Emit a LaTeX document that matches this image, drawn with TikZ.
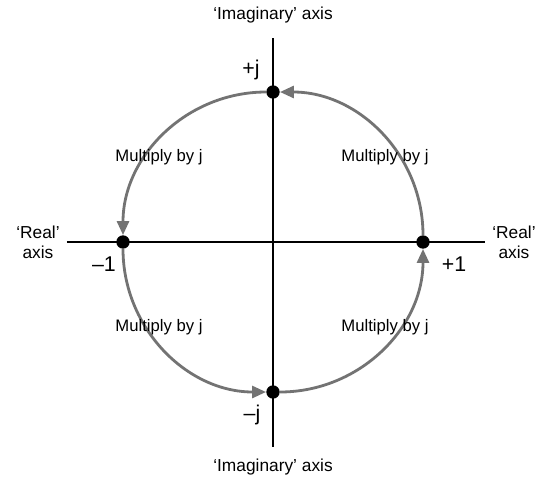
\documentclass[tikz,border=0pt]{standalone}
\usepackage{fontspec}
\setmainfont{Liberation Sans}
\usetikzlibrary{positioning, arrows.meta}
\definecolor{ArcGray}{RGB}{115,115,115}
\tikzset{
  axisline/.style={line width=1.1pt, black},
  dot/.style={circle, fill=black, minimum size=10pt, inner sep=0pt},
  arcarrow/.style={-{Triangle[length=10.5pt, width=9pt]}, line width=2.1pt, ArcGray},
  mullabel/.style={font=\fontsize{12.5}{14}\selectfont, inner sep=1pt},
  pointlabel/.style={font=\fontsize{16}{18}\selectfont, inner sep=1pt},
  axislabel/.style={font=\fontsize{13}{15}\selectfont, align=center, inner sep=1pt},
}
\begin{document}
\begin{tikzpicture}[x=0.75pt, y=0.75pt]
  \useasboundingbox (-273,-238) rectangle (272,242);
  % axes
  \coordinate (xl) at (-206,0); \coordinate (xr) at (212,0);
  \coordinate (yt) at (0,204); \coordinate (yb) at (0,-205);
  \draw[axisline] (xl) -- (xr);
  \draw[axisline] (yt) -- (yb);
  % unit circle points
  \node[dot] (pr) at (150,0) {};
  \node[dot] (pj) at (0,150) {};
  \node[dot] (mr) at (-150,0) {};
  \node[dot] (mj) at (0,-150) {};
  % quarter turns
  \draw[arcarrow] (pr) to[out=90, in=0] (pj);
  \draw[arcarrow] (pj) to[out=180, in=90] (mr);
  \draw[arcarrow] (mr) to[out=-90, in=180] (mj);
  \draw[arcarrow] (mj) to[out=0, in=-90] (pr);
  \node[mullabel] (m1) at (112,85) {Multiply by j};
  \node[mullabel] (m2) at (-114,85) {Multiply by j};
  \node[mullabel] (m3) at (-114,-85) {Multiply by j};
  \node[mullabel] (m4) at (112,-85) {Multiply by j};
  % point labels
  \node[pointlabel] (lpj) at (-22,172) {+j};
  \node[pointlabel] (lmj) at (-21,-173) {–j};
  \node[pointlabel] (lmr) at (-169,-22) {–1};
  \node[pointlabel] (lpr) at (181,-22) {+1};
  % axis names
  \node[axislabel] (rl) at (-235,0) {‘Real’\\axis};
  \node[axislabel] (rr) at (241,0) {‘Real’\\axis};
  \node[axislabel] (it) at (0,227) {‘Imaginary’ axis};
  \node[axislabel] (ib) at (0,-225) {‘Imaginary’ axis};
\end{tikzpicture}
\end{document}
